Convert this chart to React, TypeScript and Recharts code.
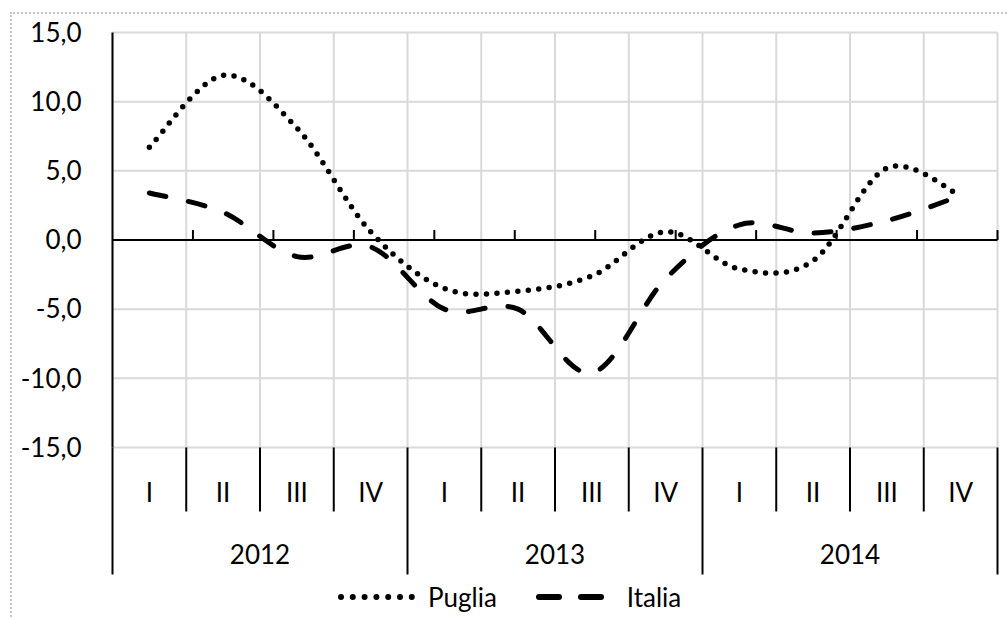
import React from 'react';
import { ComposedChart, Line, XAxis, YAxis, CartesianGrid, ReferenceLine, Legend } from 'recharts';

// ---- data ----
const QUARTERS = ['I', 'II', 'III', 'IV', 'I', 'II', 'III', 'IV', 'I', 'II', 'III', 'IV'];
const YEARS = ['2012', '2013', '2014'];
const PUGLIA = [6.7, 11.9, 8.1, 0.6, -3.5, -3.7, -2.6, 0.6, -2.1, -1.5, 5.2, 3.2];
const ITALIA = [3.4, 2.0, -1.2, -0.5, -5.0, -5.0, -9.6, -2.8, 1.1, 0.5, 1.4, 3.2];
const Y_TICKS = [-15, -10, -5, 0, 5, 10, 15];
const BOUNDARIES = [1, 2, 3, 4, 5, 6, 7, 8, 9, 10, 11, 12];
const SERIES_ORDER = ['Puglia', 'Italia'];

const data = QUARTERS.map((q, i) => ({
  key: `${YEARS[Math.floor(i / 4)]}-${q}`,
  q,
  Puglia: PUGLIA[i],
  Italia: ITALIA[i],
}));

// ---- layout ----
const W = 1007;
const H = 618;
const M_TOP = 32.5;
const M_RIGHT = 9.5;
const M_BOTTOM = 43;
const Y_W = 112.5;
const X_H = 127.5;
const PLOT_L = Y_W;
const PLOT_R = W - M_RIGHT;
const PLOT_W = PLOT_R - PLOT_L;
const PLOT_B = H - M_BOTTOM - X_H;
const BW = PLOT_W / QUARTERS.length;
const FONT = 'Lato, "Open Sans", sans-serif';
const FS = 26;

// Excel-like smoothed curve (Catmull-Rom style bezier)
const excelCurve = (context: any) => {
  let pts: number[][] = [];
  return {
    areaStart() {},
    areaEnd() {},
    lineStart() {
      pts = [];
    },
    lineEnd() {
      if (!pts.length) return;
      context.moveTo(pts[0][0], pts[0][1]);
      const n = pts.length;
      for (let i = 0; i < n - 1; i++) {
        const p0 = pts[Math.max(i - 1, 0)];
        const p1 = pts[i];
        const p2 = pts[i + 1];
        const p3 = pts[Math.min(i + 2, n - 1)];
        const c1x = p1[0] + (p2[0] - p0[0]) / 6;
        const c1y = p1[1] + (p2[1] - p0[1]) / 6;
        const c2x = p2[0] - (p3[0] - p1[0]) / 6;
        const c2y = p2[1] - (p3[1] - p1[1]) / 6;
        context.bezierCurveTo(c1x, c1y, c2x, c2y, p2[0], p2[1]);
      }
    },
    point(x: number, y: number) {
      pts.push([+x, +y]);
    },
  };
};

const fmt = (v: number) => v.toFixed(1).replace('.', ',');

const CategoryTick = (props: any) => {
  const { x, index } = props;
  const left = x - BW / 2;
  const right = x + BW / 2;
  const isYearStart = index % 4 === 0;
  return (
    <g>
      <line x1={left} x2={left} y1={PLOT_B} y2={isYearStart ? PLOT_B + 127 : PLOT_B + 64} stroke="#000" strokeWidth={2} />
      {index === QUARTERS.length - 1 && (
        <line x1={right} x2={right} y1={PLOT_B} y2={PLOT_B + 127} stroke="#000" strokeWidth={2} />
      )}
      <text x={x} y={PLOT_B + 44} textAnchor="middle" dominantBaseline="central" fontFamily={FONT} fontSize={FS} fill="#000">
        {QUARTERS[index]}
      </text>
      {index % 4 === 2 && (
        <text x={left} y={PLOT_B + 106} textAnchor="middle" dominantBaseline="central" fontFamily={FONT} fontSize={FS} fill="#000">
          {YEARS[Math.floor(index / 4)]}
        </text>
      )}
    </g>
  );
};

const LegendContent = (props: any) => {
  const payload = [...(props.payload || [])].sort(
    (a: any, b: any) => SERIES_ORDER.indexOf(a.value) - SERIES_ORDER.indexOf(b.value)
  );
  return (
    <div style={{ display: 'flex', alignItems: 'center', fontFamily: FONT, fontSize: FS, color: '#000', lineHeight: '34px' }}>
      {payload.map((entry: any) => {
        const dotted = entry.value === 'Puglia';
        return (
          <div key={entry.value} style={{ display: 'flex', alignItems: 'center', marginRight: 38 }}>
            <svg width={80} height={20} style={{ marginRight: 12 }}>
              {dotted ? (
                <line x1={5} x2={76} y1={10} y2={10} stroke="#000" strokeWidth={6} strokeDasharray="0 11.8" strokeLinecap="round" />
              ) : (
                <line x1={4} x2={66} y1={10} y2={10} stroke="#000" strokeWidth={6} strokeDasharray="20 22" strokeLinecap="round" />
              )}
            </svg>
            <span>{entry.value}</span>
          </div>
        );
      })}
    </div>
  );
};

export default function App() {
  return (
    <div style={{ position: 'absolute', left: 0, top: 0, width: W, height: H, overflow: 'hidden', background: '#fff' }}>
      <div
        style={{
          position: 'absolute',
          left: 10,
          top: 12,
          width: W + 40,
          height: H + 40,
          borderTop: '2px dotted #c4c4c4',
          borderLeft: '2px dotted #c4c4c4',
        }}
      />
      <div style={{ position: 'absolute', left: 0, top: 0 }}>
        <ComposedChart width={W} height={H} data={data} margin={{ top: M_TOP, right: M_RIGHT, bottom: M_BOTTOM, left: 0 }}>
          <CartesianGrid
            stroke="#d9d9d9"
            strokeWidth={2}
            verticalCoordinatesGenerator={(p: any) => {
              const off = p && p.offset ? p.offset : { left: PLOT_L, width: PLOT_W };
              return [0, ...BOUNDARIES].map((b) => off.left + (b * off.width) / QUARTERS.length);
            }}
          />
          <XAxis
            dataKey="key"
            scale="band"
            height={X_H}
            interval={0}
            tickLine={false}
            axisLine={false}
            tickSize={0}
            tickMargin={0}
            tick={(p: any) => <CategoryTick {...p} />}
          />
          <XAxis xAxisId="num" type="number" domain={[0, 12]} hide allowDataOverflow />
          <YAxis
            width={Y_W}
            domain={[-15, 15]}
            ticks={Y_TICKS}
            tickFormatter={fmt}
            tickLine={false}
            tickSize={0}
            tickMargin={31}
            axisLine={{ stroke: '#000', strokeWidth: 2 }}
            tick={{ fill: '#000', fontSize: FS, fontFamily: FONT }}
            allowDataOverflow
          />
          <ReferenceLine y={0} stroke="#000" strokeWidth={2} />
          {BOUNDARIES.map((b) => (
            <ReferenceLine
              key={b}
              xAxisId="num"
              segment={[
                { x: b, y: 0 },
                { x: b, y: 0.72 },
              ]}
              stroke="#000"
              strokeWidth={2}
            />
          ))}
          <Line
            dataKey="Puglia"
            name="Puglia"
            type={excelCurve as any}
            stroke="#000"
            strokeWidth={5.5}
            strokeDasharray="0 10.5"
            strokeLinecap="round"
            dot={false}
            activeDot={false}
            isAnimationActive={false}
          />
          <Line
            dataKey="Italia"
            name="Italia"
            type={excelCurve as any}
            stroke="#000"
            strokeWidth={5}
            strokeDasharray="17 23"
            strokeLinecap="round"
            dot={false}
            activeDot={false}
            isAnimationActive={false}
          />
          <Legend
            layout="horizontal"
            verticalAlign="middle"
            align="center"
            wrapperStyle={{ position: 'absolute', left: 336, top: 580, width: 440, height: 34 }}
            content={(p: any) => <LegendContent {...p} />}
          />
        </ComposedChart>
      </div>
    </div>
  );
}
